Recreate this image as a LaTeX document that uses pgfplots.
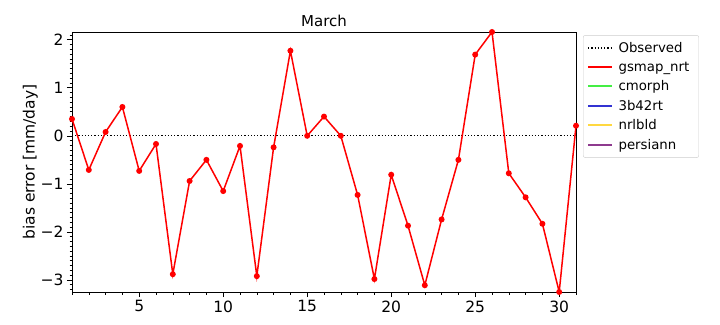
\documentclass[border=0pt]{standalone}
\usepackage{fontspec}
\setmainfont{DejaVu Sans}
\usepackage{pgfplots}
\pgfplotsset{compat=1.18}
\definecolor{seriesgreen}{RGB}{68,238,68}
\definecolor{seriesblue}{RGB}{50,50,210}
\definecolor{seriesyellow}{RGB}{255,216,64}
\definecolor{seriespurple}{RGB}{142,58,142}
\begin{document}
\begin{tikzpicture}[x=1bp,y=1bp]
\path[use as bounding box] (0,0) rectangle (720,324);
\begin{axis}[
  at={(72bp,32bp)}, anchor=south west,
  scale only axis, width=504bp, height=260bp,
  xmin=1, xmax=31, ymin=-3.25, ymax=2.16,
  xtick={5,10,15,20,25,30},
  xticklabels={5,10,15,20,25,30},
  minor xtick={1,2,3,4,6,7,8,9,11,12,13,14,16,17,18,19,21,22,23,24,26,27,28,29,31},
  ytick={-3,-2,-1,0,1,2},
  yticklabels={−3,−2,−1,0,1,2},
  minor ytick={-3.2,-3.1,-2.9,-2.8,-2.7,-2.6,-2.5,-2.4,-2.3,-2.2,-2.1,-1.9,-1.8,-1.7,-1.6,-1.5,-1.4,-1.3,-1.2,-1.1,-0.9,-0.8,-0.7,-0.6,-0.5,-0.4,-0.3,-0.2,-0.1,0.1,0.2,0.3,0.4,0.5,0.6,0.7,0.8,0.9,1.1,1.2,1.3,1.4,1.5,1.6,1.7,1.8,1.9,2.1},
  tick align=outside, tick pos=left,
  major tick length=5bp, minor tick length=2.5bp,
  tick style={black, line width=0.6bp},
  axis line style={line width=0.8bp},
  ticklabel style={font=\fontsize{15.5bp}{18bp}\selectfont},
  title={March},
  title style={font=\fontsize{15bp}{18bp}\selectfont, yshift=-4bp},
  ylabel={bias error [mm/day]},
  ylabel style={font=\fontsize{15.5bp}{18bp}\selectfont, yshift=-4bp},
  legend style={at={(1.014,0.988)}, anchor=north west,
    font=\fontsize{13.3bp}{15bp}\selectfont, draw=black!20, rounded corners=2bp,
    row sep=3.9bp, inner xsep=4bp, inner ysep=5bp,
    nodes={inner xsep=5.5bp}},
  legend cell align=left,
  legend image code/.code={\draw[line width=1.8bp] (0bp,0bp) -- (24bp,0bp);},
]
\addplot[black, dotted, line width=1.2bp] coordinates {(1,0) (31,0)};
\addlegendentry{Observed}
\addplot[red, line width=1.5bp, mark=*, mark size=2.2bp, mark options={fill=red, draw=red}] coordinates {
(1,0.35) (2,-0.71) (3,0.08) (4,0.60) (5,-0.73) (6,-0.17) (7,-2.88) (8,-0.94)
(9,-0.50) (10,-1.15) (11,-0.21) (12,-2.92) (13,-0.24) (14,1.77) (15,0.00)
(16,0.40) (17,0.00) (18,-1.23) (19,-2.98) (20,-0.81) (21,-1.87) (22,-3.11)
(23,-1.74) (24,-0.50) (25,1.69) (26,2.16) (27,-0.78) (28,-1.28) (29,-1.83)
(30,-3.25) (31,0.21)};
\addlegendentry{gsmap\_nrt}
\addlegendimage{draw=seriesgreen}
\addlegendentry{cmorph}
\addlegendimage{draw=seriesblue}
\addlegendentry{3b42rt}
\addlegendimage{draw=seriesyellow}
\addlegendentry{nrlbld}
\addlegendimage{draw=seriespurple}
\addlegendentry{persiann}
\end{axis}
\end{tikzpicture}
\end{document}
